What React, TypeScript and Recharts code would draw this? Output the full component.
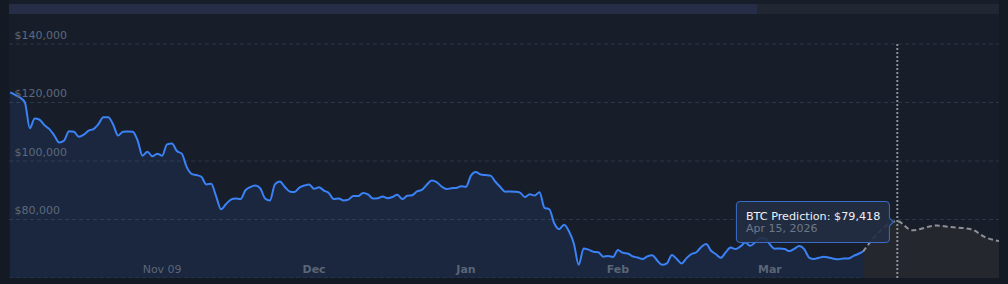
import { ComposedChart, Area, XAxis, YAxis, CartesianGrid, Tooltip } from "recharts";

// daily BTC closes (USD), oldest first
const PRICES = [
  123500, 122600, 121700, 120000, 111200, 114500, 114100, 112200, 110900, 108700,
  106300, 107000, 110200, 110000, 108300, 109000, 110400, 110900, 112600, 115000,
  115000, 112500, 108700, 110000, 110100, 110000, 107000, 101800, 103200, 101600,
  102500, 101800, 105700, 106000, 103400, 102500, 98000, 95600, 95200, 94600,
  92000, 92200, 88000, 83500, 85200, 86800, 87200, 87000, 90000, 91100,
  91600, 90700, 87200, 86500, 92000, 93000, 91200, 89600, 89400, 90900,
  91600, 92000, 90500, 91000, 89900, 89100, 87000, 87200, 86500, 86800,
  88000, 88000, 89100, 88600, 87200, 87300, 87900, 87300, 87700, 88500,
  87000, 88100, 88300, 89600, 90100, 91900, 93300, 92800, 91300, 90400,
  90700, 90800, 91400, 91200, 95000, 96200, 95400, 95200, 95000, 92900,
  91100, 89500, 89600, 89500, 89200, 87700, 88600, 88200, 89300, 84000,
  83500, 78700, 76700, 78200, 76000, 71800, 64500, 70100, 69700, 69000,
  68800, 67300, 67500, 67200, 69600, 68600, 68400, 67400, 67000, 66500,
  67400, 67800, 66000, 64500, 65000, 67900, 66500, 65000, 66800, 68200,
  68800, 70600, 71600, 69300, 68100, 66900, 68800, 70400, 69900, 70800,
  72100, 71000, 72200, 73600, 73600, 71500, 70000, 70100, 69900, 69200,
  70000, 70900, 69900, 67000, 66500, 66900, 67300, 67000, 66600, 66400,
  66700, 66700, 67500, 68200, 69000,
];

// prediction points (x = position on the same index axis)
const PRED_X = [174, 181, 184, 189, 192, 196, 199, 201.75];
const PRED_VALUES = [69000, 79418, 76300, 77950, 77400, 76700, 73900, 72600];
const PRED_DATES = [
  "Mar 20, 2026",
  "Apr 15, 2026",
  "Apr 26, 2026",
  "May 15, 2026",
  "May 26, 2026",
  "Jun 10, 2026",
  "Jun 21, 2026",
  "Jul 1, 2026",
];
const ACTIVE_DATE = "Apr 15, 2026";

const TICK_INDEX = [31, 62, 93, 124, 155];
const TICK_LABELS = ["Nov 09", "Dec", "Jan", "Feb", "Mar"];
const Y_TICKS = [80000, 100000, 120000, 140000];

type Row = { x: number; price?: number; pred?: number; date?: string };

const data: Row[] = PRICES.map((price, i) => ({ x: i, price }));
PRED_X.forEach((x, k) => {
  const hit = data.find((d) => d.x === x);
  if (hit) {
    hit.pred = PRED_VALUES[k];
    hit.date = PRED_DATES[k];
  } else {
    data.push({ x, pred: PRED_VALUES[k], date: PRED_DATES[k] });
  }
});
const activeIndex = data.findIndex((d) => d.date === ACTIVE_DATE);

const FONT = "'DejaVu Sans', Verdana, sans-serif";
const fmt = (v: number) => "$" + v.toLocaleString("en-US");

// plot box inside the svg
const PLOT_LEFT = 0;
const PLOT_BOTTOM = 278;

const YTick = (props: any) => {
  const { y, payload } = props;
  return (
    <text x={PLOT_LEFT + 5.5} y={y - 5.5} fill="#5d697d" fontSize={11} fontFamily={FONT} textAnchor="start">
      {fmt(payload.value)}
    </text>
  );
};

const XTick = (props: any) => {
  const { x, payload } = props;
  const label = TICK_LABELS[TICK_INDEX.indexOf(payload.value)] ?? "";
  const bold = !/\d/.test(label);
  return (
    <text
      x={x}
      y={PLOT_BOTTOM - 5.3}
      fill="#5a6578"
      fontSize={11}
      fontWeight={bold ? "bold" : "normal"}
      fontFamily={FONT}
      textAnchor="middle"
    >
      {label}
    </text>
  );
};

const PredTooltip = ({ active, payload }: any) => {
  if (!active || !payload || !payload.length) return null;
  const row: Row = payload[0].payload;
  if (row.pred == null) return null;
  const bg = "rgba(35,46,66,0.9)";
  return (
    <div
      style={{
        position: "relative",
        background: bg,
        border: "1px solid #3a6cc8",
        borderRadius: 4,
        padding: "9px 9px 7px 9px",
        fontFamily: FONT,
        lineHeight: "12px",
        whiteSpace: "nowrap",
      }}
    >
      <div style={{ color: "#eef1f6", fontSize: 11.2 }}>BTC Prediction: {fmt(row.pred)}</div>
      <div style={{ color: "#6c788b", fontSize: 11 }}>{row.date}</div>
      <span
        style={{
          position: "absolute",
          right: -4,
          top: "50%",
          marginTop: -3,
          width: 5,
          height: 5,
          transform: "rotate(45deg)",
          background: "#232e42",
          borderTop: "1px solid #3a6cc8",
          borderRight: "1px solid #3a6cc8",
        }}
      />
    </div>
  );
};

export default function App() {
  return (
    <div style={{ position: "fixed", inset: 0, background: "#141a23" }}>
      <div
        style={{
          position: "absolute",
          left: 9,
          top: 0,
          width: 990,
          height: 278,
          background: "#171e2a",
          fontFamily: FONT,
        }}
      >
        <div
          style={{
            position: "absolute",
            left: 0,
            top: 4,
            width: 990,
            height: 10,
            background: "#212633",
          }}
        >
          <div style={{ width: 748, height: "100%", background: "#262d47" }} />
        </div>
        <ComposedChart width={990} height={278} data={data} margin={{ top: 44, right: 0, bottom: 0, left: 0 }}>
          <CartesianGrid vertical={false} stroke="#2b3744" strokeDasharray="4 3" />
          <XAxis
            dataKey="x"
            type="number"
            domain={[-0.25, 201.75]}
            allowDataOverflow
            ticks={TICK_INDEX}
            interval={0}
            mirror
            height={20}
            axisLine={false}
            tickLine={false}
            tick={<XTick />}
          />
          <YAxis
            domain={[60000, 140000]}
            ticks={Y_TICKS}
            interval={0}
            mirror
            width={60}
            axisLine={false}
            tickLine={false}
            tick={<YTick />}
          />
          <Area
            type="monotone"
            dataKey="price"
            stroke="#3b82f6"
            strokeWidth={2}
            fill="#3b82f6"
            fillOpacity={0.1}
            dot={false}
            activeDot={false}
            isAnimationActive={false}
          />
          <Area
            type="monotone"
            dataKey="pred"
            stroke="#8e9096"
            strokeWidth={2}
            strokeDasharray="5 3"
            fill="#24272e"
            fillOpacity={1}
            dot={false}
            activeDot={false}
            isAnimationActive={false}
          />
          <Tooltip
            active
            defaultIndex={activeIndex}
            content={<PredTooltip />}
            cursor={{ stroke: "#8a9099", strokeWidth: 2, strokeDasharray: "2 2" }}
            reverseDirection={{ x: true, y: false }}
            offset={7}
            position={{ y: 201 }}
            isAnimationActive={false}
          />
        </ComposedChart>
      </div>
    </div>
  );
}
